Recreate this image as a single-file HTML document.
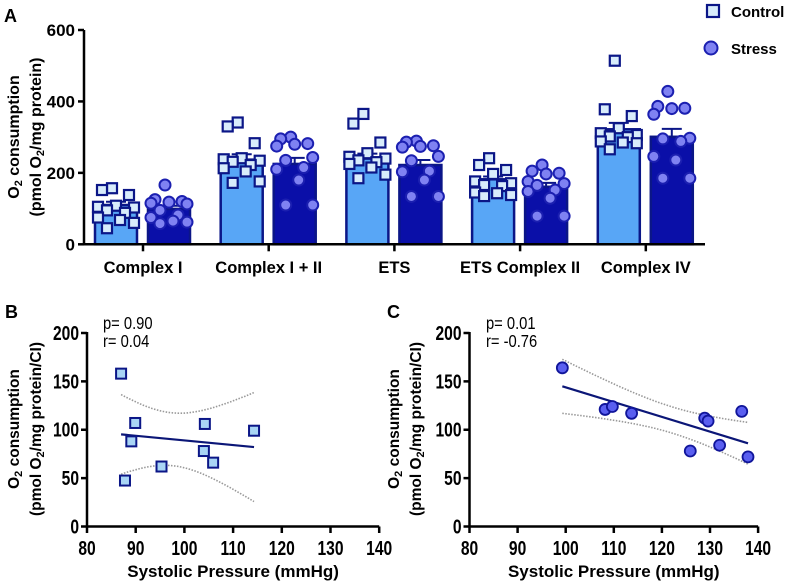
<!DOCTYPE html>
<html><head><meta charset="utf-8"><style>
html,body{margin:0;padding:0;background:#fff}
svg{display:block;font-family:"Liberation Sans",sans-serif}
</style></head><body>
<svg id="fig" width="790" height="584" viewBox="0 0 790 584" xmlns="http://www.w3.org/2000/svg">
<g id="A"></g>
<g id="B"></g>
<g id="C"></g>
</svg>
<script>
// Panel A data
const categories = ["Complex I","Complex I + II","ETS","ETS Complex II","Complex IV"];
const controlMeans = [110,237,240,182,322];
const stressMeans = [99,225,222,161,301];
const controlSEM = [9,15,14,8,18];
const stressSEM = [9,17,14,11,22];
const controlPoints = [
 [157,152,138,108,105,103,95,88,75,68,60,45],
 [341,330,283,241,238,234,231,222,213,204,176,172],
 [365,338,285,255,245,240,235,230,225,215,195,185],
 [241,222,208,197,176,171,166,163,145,143,138,135],
 [514,378,359,325,311,306,302,300,288,285,283,266]];
const stressPoints = [
 [166,125,120,118,115,113,95,82,75,65,62,58],
 [300,295,282,280,275,243,235,215,210,180,110,110],
 [289,286,276,274,272,246,234,205,203,180,134,134],
 [222,205,199,197,176,170,165,152,148,129,79,79],
 [428,386,381,380,364,297,295,288,246,236,185,185]];
const aTicks = [0,200,400,600];
// Panel B data
const bX = [87.0,87.8,89.9,89.1,95.3,104.2,104.0,105.9,114.3];
const bY = [158,47.5,107,88,62,106,78,66,99];
// Panel C data
const cX = [99.3,108.2,109.7,113.7,128.9,129.6,125.9,132,136.6,137.9];
const cY = [164,121,124,117,112,109,78,84,119,72];
const xTicks = [80,90,100,110,120,130,140];
const yTicks = [0,50,100,150,200];

const NS="http://www.w3.org/2000/svg";
function mk(parent,tag,attrs,text){const e=document.createElementNS(NS,tag);for(const k in attrs)e.setAttribute(k,attrs[k]);if(text!==undefined)e.textContent=text;parent.appendChild(e);return e;}
const NAVY="#0b1687", CBAR="#58a6f6", SBAR="#0a0fa8", CPT="#d8ecfb", SPT="#7f82f2";
const jit=[-4,-14,13,0,-18,18,-9,9,-18,4,18,-9];

// ---------- Panel A ----------
const A=document.getElementById('A');
const ax0=84, ax1=705, ay0=244.3, ay1=30;
const ay=v=>ay0-(v/600)*(ay0-ay1);
const tickX=i=>143+i*125.7;
let e=mk(A,'text',{x:4,y:22,'font-size':18,'font-weight':'bold'},'A');

categories.forEach((c,i)=>{
  const t=tickX(i);
  [[controlMeans,controlSEM,controlPoints,-27,CBAR,'control'],[stressMeans,stressSEM,stressPoints,26,SBAR,'stress']].forEach(([m,s,p,off,col,nm])=>{
    const cx=t+off, w=42;
    let r=mk(A,'rect',{x:cx-w/2,y:ay(m[i]),width:w,height:ay0-ay(m[i]),fill:col,stroke:NAVY,'stroke-width':2.5});
    
    let eb=mk(A,'path',{d:`M${cx} ${ay(m[i])} V${ay(m[i]+s[i])} M${cx-10} ${ay(m[i]+s[i])} H${cx+10}`,stroke:NAVY,'stroke-width':2,fill:'none'});
    
    p[i].forEach((v,j)=>{
      const px=cx+jit[j];
      let mkr;
      if(nm==='control'){mkr=mk(A,'rect',{x:px-5,y:ay(v)-5,width:10,height:10,fill:CPT,stroke:NAVY,'stroke-width':2.2});}
      else{mkr=mk(A,'circle',{cx:px,cy:ay(v),r:5.5,fill:SPT,stroke:'#1b1fb0','stroke-width':2});}
      
    });
  });
  let tk=mk(A,'line',{x1:t,y1:ay0,x2:t,y2:ay0+7,stroke:'#000','stroke-width':2.5});
  
  let lb=mk(A,'text',{x:t,y:273,'text-anchor':'middle','font-size':16.5,'font-weight':'bold'},c);
  
});
e=mk(A,'path',{d:`M${ax0} ${ay1} V${ay0} H${ax1}`,stroke:'#000','stroke-width':2.5,fill:'none'});

aTicks.forEach(v=>{
  let l=mk(A,'line',{x1:ax0-6,y1:ay(v),x2:ax0,y2:ay(v),stroke:'#000','stroke-width':2.5});
  
  let t=mk(A,'text',{x:ax0-9,y:ay(v)+6,'text-anchor':'end','font-size':17,'font-weight':'bold'},v);
  
});
e=mk(A,'text',{transform:'translate(19,137) rotate(-90)','text-anchor':'middle','font-size':16,'font-weight':'bold'});
e.innerHTML='O<tspan font-size="11" dy="3">2</tspan><tspan dy="-3"> consumption</tspan>';

e=mk(A,'text',{transform:'translate(41,137) rotate(-90)','text-anchor':'middle','font-size':16,'font-weight':'bold'});
e.innerHTML='(pmol O<tspan font-size="11" dy="3">2</tspan><tspan dy="-3">/mg protein)</tspan>';

// legend
e=mk(A,'rect',{x:707,y:5,width:12,height:12,fill:CPT,stroke:NAVY,'stroke-width':2.2});

e=mk(A,'text',{x:731,y:17,'font-size':15,'font-weight':'bold'},'Control');

e=mk(A,'circle',{cx:711,cy:48,r:6.5,fill:SPT,stroke:'#1b1fb0','stroke-width':2});

e=mk(A,'text',{x:731,y:54,'font-size':15,'font-weight':'bold'},'Stress');


// ---------- Scatter panels ----------
function scatter(G,X,Y,o){
  const sx=v=>o.x0+(v-80)*o.kx, sy=v=>526.5-v*0.9675;
  let t=mk(G,'text',{x:o.lx,y:318,'font-size':18,'font-weight':'bold'},o.label);
  
  const n=X.length, mx=X.reduce((a,b)=>a+b)/n, my=Y.reduce((a,b)=>a+b)/n;
  let sxx=0,sxy=0;X.forEach((x,i)=>{sxx+=(x-mx)**2;sxy+=(x-mx)*(Y[i]-my);});
  const b=sxy/sxx, a=my-b*mx;
  let sse=0;X.forEach((x,i)=>{sse+=(Y[i]-a-b*x)**2;});
  const s=Math.sqrt(sse/(n-2)), tv=n===9?2.365:2.306;
  const xmin=Math.min(...X), xmax=Math.max(...X);
  let up='',lo='';
  for(let k=0;k<=30;k++){const x=xmin+(xmax-xmin)*k/30;const yh=a+b*x;const h=tv*s*Math.sqrt(1/n+(x-mx)**2/sxx);
    up+=(k?'L':'M')+sx(x).toFixed(1)+' '+sy(yh+h).toFixed(1);lo+=(k?'L':'M')+sx(x).toFixed(1)+' '+sy(yh-h).toFixed(1);}
  let c1=mk(G,'path',{d:up,fill:'none',stroke:'#999','stroke-width':1.6,'stroke-dasharray':'1.5 1.5'});
  
  let c2=mk(G,'path',{d:lo,fill:'none',stroke:'#999','stroke-width':1.6,'stroke-dasharray':'1.5 1.5'});
  
  let rl=mk(G,'line',{x1:sx(xmin),y1:sy(a+b*xmin),x2:sx(xmax),y2:sy(a+b*xmax),stroke:'#0b1677','stroke-width':2.2});
  
  X.forEach((x,i)=>{let m;
    if(o.sq){m=mk(G,'rect',{x:sx(x)-5,y:sy(Y[i])-5,width:10,height:10,fill:'#a9d5f5',stroke:NAVY,'stroke-width':2});}
    else{m=mk(G,'circle',{cx:sx(x),cy:sy(Y[i]),r:5.5,fill:'#5a5ff0',stroke:'#10159a','stroke-width':1.8});}
    });
  let ax=mk(G,'path',{d:`M${o.x0} 332 V526.5 H${sx(140)}`,stroke:'#000','stroke-width':2.5,fill:'none'});
  
  xTicks.forEach(v=>{let l=mk(G,'line',{x1:sx(v),y1:526.5,x2:sx(v),y2:533,stroke:'#000','stroke-width':2.5});
    
    let tt=mk(G,'text',{x:sx(v),y:555,'text-anchor':'middle','font-size':20,'font-weight':'bold',transform:`translate(${sx(v)} 0) scale(0.78 1) translate(${-sx(v)} 0)`},v);
    });
  yTicks.forEach(v=>{let l=mk(G,'line',{x1:o.x0-6,y1:sy(v),x2:o.x0,y2:sy(v),stroke:'#000','stroke-width':2.5});
    
    const tx=o.x0-8;
    let tt=mk(G,'text',{x:tx,y:sy(v)+7,'text-anchor':'end','font-size':20,'font-weight':'bold',transform:`translate(${tx} 0) scale(0.78 1) translate(${-tx} 0)`},v);
    });
  const xc=(o.x0+sx(140))/2;
  let xt=mk(G,'text',{x:xc,y:577,'text-anchor':'middle','font-size':17,'font-weight':'bold'},'Systolic Pressure (mmHg)');
  
  let y1=mk(G,'text',{transform:`translate(${o.tx},429) rotate(-90)`,'text-anchor':'middle','font-size':15.5,'font-weight':'bold'});
  y1.innerHTML='O<tspan font-size="11" dy="3">2</tspan><tspan dy="-3"> consumption</tspan>';
  
  let y2=mk(G,'text',{transform:`translate(${o.tx+22},429) rotate(-90)`,'text-anchor':'middle','font-size':15.5,'font-weight':'bold'});
  y2.innerHTML='(pmol O<tspan font-size="11" dy="3">2</tspan><tspan dy="-3">/mg protein/CI)</tspan>';
  
  let p=mk(G,'text',{x:o.sx,y:329,'font-size':18,transform:`translate(${o.sx} 0) scale(0.82 1) translate(${-o.sx} 0)`},o.p);
  
  let r=mk(G,'text',{x:o.sx,y:347,'font-size':18,transform:`translate(${o.sx} 0) scale(0.82 1) translate(${-o.sx} 0)`},o.r);
  
}
scatter(document.getElementById('B'),bX,bY,{x0:87,kx:4.87,lx:5,label:'B',tx:19,sx:103,p:'p= 0.90',r:'r= 0.04',sq:true});
scatter(document.getElementById('C'),cX,cY,{x0:469.5,kx:4.81,lx:387,label:'C',tx:399,sx:486,p:'p= 0.01',r:'r= -0.76',sq:false});
</script>
</body></html>
